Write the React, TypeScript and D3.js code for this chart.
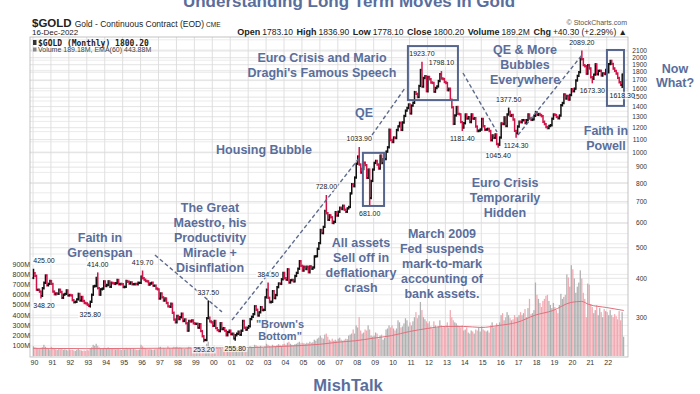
import { useEffect, useRef } from "react"
import * as d3 from "d3"

const WIDTH = 700
const HEIGHT = 394

// monthly closes of $GOLD, Jan 1990 .. Dec 2022, one row per year
const closes = [
  415, 407, 368, 368, 363, 352, 372, 387, 408, 380, 384, 392,
  384, 363, 356, 358, 357, 368, 362, 347, 355, 357, 366, 353,
  354, 353, 341, 336, 337, 343, 357, 340, 349, 339, 334, 333,
  330, 327, 337, 355, 377, 378, 401, 372, 355, 369, 371, 391,
  378, 381, 391, 376, 387, 386, 384, 386, 395, 383, 384, 383,
  375, 376, 392, 390, 385, 388, 383, 383, 384, 383, 387, 387,
  405, 400, 396, 392, 391, 382, 385, 387, 379, 379, 371, 369,
  345, 358, 348, 340, 345, 334, 326, 325, 332, 311, 296, 290,
  304, 297, 301, 309, 293, 296, 288, 273, 293, 292, 294, 288,
  287, 287, 279, 286, 272, 262, 255, 255, 299, 300, 292, 290,
  283, 293, 278, 274, 272, 288, 276, 278, 273, 264, 270, 273,
  266, 267, 258, 264, 267, 271, 265, 273, 293, 279, 275, 279,
  282, 297, 302, 308, 326, 318, 305, 312, 324, 317, 318, 348,
  368, 347, 336, 337, 364, 346, 354, 375, 385, 384, 397, 416,
  400, 396, 427, 388, 394, 395, 391, 407, 416, 429, 453, 438,
  423, 435, 428, 435, 418, 436, 429, 433, 469, 470, 496, 517,
  569, 556, 582, 654, 643, 613, 633, 624, 599, 604, 648, 632,
  650, 669, 663, 679, 660, 650, 666, 673, 743, 795, 783, 834,
  923, 972, 917, 865, 888, 930, 913, 833, 884, 718, 814, 884,
  928, 942, 917, 891, 979, 927, 954, 955, 1008, 1040, 1182, 1097,
  1081, 1117, 1113, 1180, 1212, 1244, 1181, 1247, 1308, 1359, 1385, 1421,
  1332, 1410, 1439, 1556, 1536, 1500, 1628, 1828, 1620, 1725, 1746, 1566,
  1738, 1710, 1669, 1664, 1561, 1604, 1622, 1687, 1773, 1719, 1712, 1675,
  1663, 1578, 1595, 1472, 1392, 1234, 1313, 1395, 1328, 1323, 1250, 1202,
  1240, 1321, 1284, 1296, 1250, 1322, 1282, 1287, 1210, 1171, 1175, 1184,
  1279, 1213, 1183, 1184, 1190, 1172, 1095, 1134, 1115, 1142, 1065, 1060,
  1117, 1237, 1233, 1293, 1215, 1322, 1349, 1308, 1316, 1274, 1173, 1152,
  1211, 1254, 1249, 1267, 1268, 1242, 1268, 1321, 1283, 1271, 1275, 1309,
  1345, 1318, 1326, 1316, 1305, 1254, 1232, 1206, 1196, 1215, 1222, 1282,
  1321, 1316, 1298, 1285, 1311, 1413, 1437, 1529, 1485, 1514, 1473, 1523,
  1589, 1566, 1596, 1694, 1751, 1800, 1986, 1978, 1895, 1880, 1780, 1895,
  1850, 1734, 1716, 1768, 1905, 1771, 1817, 1818, 1757, 1784, 1776, 1829,
  1797, 1909, 1954, 1911, 1849, 1817, 1782, 1726, 1672, 1640, 1768, 1800,
]
const firstOpen = 401

// labelled highs and lows
const extremes = [
  { month: "1990-01", value: 425.0, kind: "high" },
  { month: "1990-06", value: 348.2, kind: "low" },
  { month: "1993-03", value: 325.8, kind: "low" },
  { month: "1993-08", value: 414.0, kind: "high" },
  { month: "1996-02", value: 419.7, kind: "high" },
  { month: "1999-07", value: 253.2, kind: "low" },
  { month: "1999-10", value: 337.5, kind: "high" },
  { month: "2001-04", value: 255.8, kind: "low" },
  { month: "2003-02", value: 384.5, kind: "high" },
  { month: "2006-05", value: 728.0, kind: "high" },
  { month: "2008-03", value: 1033.9, kind: "high" },
  { month: "2008-10", value: 681.0, kind: "low" },
  { month: "2011-09", value: 1923.7, kind: "high" },
  { month: "2012-10", value: 1798.1, kind: "high" },
  { month: "2013-12", value: 1181.4, kind: "low" },
  { month: "2015-12", value: 1045.4, kind: "low" },
  { month: "2016-07", value: 1377.5, kind: "high" },
  { month: "2016-12", value: 1124.3, kind: "low" },
  { month: "2020-08", value: 2089.2, kind: "high" },
  { month: "2021-03", value: 1673.3, kind: "low" },
  { month: "2022-11", value: 1618.3, kind: "low" },
]

// monthly volume in millions
const volumes = [
  95, 85, 80, 75, 70, 80, 85, 110, 90, 80, 70, 65,
  90, 80, 70, 65, 60, 70, 65, 70, 60, 65, 60, 55,
  65, 60, 60, 55, 50, 60, 70, 60, 55, 50, 55, 50,
  60, 55, 75, 85, 110, 100, 120, 100, 85, 75, 70, 80,
  80, 70, 85, 75, 70, 75, 70, 65, 75, 70, 65, 60,
  70, 65, 80, 70, 75, 70, 65, 70, 65, 60, 60, 65,
  110, 95, 80, 75, 70, 65, 70, 65, 60, 65, 70, 70,
  85, 90, 75, 80, 75, 70, 95, 80, 75, 80, 90, 85,
  90, 80, 85, 80, 75, 70, 75, 80, 90, 85, 75, 70,
  80, 75, 70, 75, 85, 90, 95, 85, 120, 140, 95, 80,
  85, 100, 90, 80, 75, 80, 70, 75, 70, 65, 70, 75,
  80, 75, 70, 75, 85, 80, 70, 75, 100, 85, 70, 65,
  80, 95, 90, 85, 110, 105, 95, 90, 100, 85, 80, 95,
  120, 110, 100, 90, 110, 100, 95, 105, 115, 110, 100, 115,
  120, 110, 130, 140, 120, 110, 105, 115, 120, 130, 140, 125,
  130, 125, 120, 130, 125, 140, 130, 135, 160, 150, 170, 180,
  200, 180, 170, 210, 220, 190, 160, 150, 170, 150, 160, 150,
  170, 180, 160, 150, 160, 170, 165, 200, 210, 220, 260, 220,
  300, 280, 380, 250, 220, 230, 260, 250, 300, 260, 200, 190,
  200, 230, 220, 170, 200, 210, 160, 180, 260, 270, 300, 280,
  300, 270, 250, 270, 350, 330, 280, 290, 320, 370, 350, 290,
  330, 300, 340, 380, 430, 370, 400, 530, 450, 380, 360, 340,
  320, 340, 290, 270, 340, 300, 280, 290, 350, 300, 280, 290,
  300, 330, 280, 450, 380, 350, 330, 320, 300, 290, 280, 300,
  250, 260, 280, 230, 220, 250, 240, 220, 260, 250, 280, 240,
  290, 260, 250, 240, 250, 230, 300, 330, 280, 290, 320, 300,
  330, 400, 420, 350, 380, 430, 400, 370, 350, 360, 400, 380,
  380, 400, 430, 400, 420, 460, 380, 470, 560, 410, 420, 450,
  720, 600, 560, 520, 480, 540, 560, 590, 600, 540, 500, 470,
  520, 480, 450, 420, 500, 610, 560, 580, 600, 800, 770, 680,
  890, 850, 760, 620, 680, 720, 840, 760, 620, 560, 380, 710,
  700, 510, 480, 420, 450, 500, 400, 470, 430, 380, 460, 440,
  430, 400, 450, 400, 380, 410, 390, 360, 440, 350, 430, 189,
]

// EMA(60) of volume, read at a few dates
const volumeEma = [
  [1990, 75], [1993, 72], [1996, 75], [1999, 78], [2002, 82], [2004, 95],
  [2006, 115], [2007, 135], [2008, 150], [2009, 175], [2010, 200], [2011, 240],
  [2012, 270], [2013, 290], [2014, 290], [2015, 280], [2016, 300], [2017, 330],
  [2018, 400], [2019, 446], [2020, 525], [2020.6, 535], [2021, 505], [2022, 475],
  [2022.95, 446],
]

const priceTicks = [300, 400, 500, 600, 700, 800, 900, 1000, 1100, 1200, 1300, 1400, 1500, 1600, 1700, 1800, 1900, 2000, 2100]
const volumeTicks = [100, 200, 300, 400, 500, 600, 700, 800, 900]
const volumeGrid = d3.range(100, 3200, 100)
const yearTicks = d3.range(1990, 2023)

// highlighted boxes: [from year, to year, top price, bottom price]
const boxes = [
  [2008.4, 2009.58, 999, 678],
  [2010.91, 2013.7, 2177, 1468],
  [2022.01, 2022.96, 2116, 1407],
]

// dashed trend arrows: [year, price] -> [year, price]
const trendLines = [
  [[1996.8, 474], [2000.54, 313]],
  [[2001.1, 295], [2008.24, 969]],
  [[2008.91, 1138], [2010.75, 1603]],
  [[2013.98, 1789], [2015.88, 1163]],
  [[2017.05, 1138], [2020.62, 2040]],
]

const notes = [
  { x: 322, y: 62, lines: ["Euro Crisis and Mario", "Draghi's Famous Speech"] },
  { x: 364, y: 117, lines: ["QE"] },
  { x: 264, y: 154, lines: ["Housing Bubble"] },
  { x: 210, y: 212, lines: ["The Great", "Maestro, his", "Productivity", "Miracle +", "Disinflation"] },
  { x: 100, y: 242, lines: ["Faith in", "Greenspan"] },
  { x: 361, y: 247, lines: ["All assets", "Sell off in", "deflationary", "crash"] },
  { x: 442, y: 238, lines: ["March 2009", "Fed suspends", "mark-to-mark", "accounting of", "bank assets."] },
  { x: 525, y: 54, lines: ["QE & More", "Bubbles", "Everywhere"] },
  { x: 505, y: 187, lines: ["Euro Crisis", "Temporarily", "Hidden"] },
  { x: 606, y: 135, lines: ["Faith in", "Powell"] },
  { x: 675, y: 73, lines: ["Now", "What?"], lh: 13.5 },
  { x: 280, y: 328, lines: ['"Brown\'s', 'Bottom"'], size: 11, lh: 12 },
]

const BLUE = "#5a6e9c"
const RED = "#d0144a"
const SANS = "'Liberation Sans', Arial, sans-serif"

const App = () => {
  const svgRef = useRef<SVGSVGElement>(null)

  useEffect(() => {
    const svg = d3.select(svgRef.current)
    svg.selectAll("*").remove()

    const plot = { left: 30, right: 628, top: 37, bottom: 357 }

    const x = d3.scaleLinear().domain([1990, 2023]).range([33, 33 + 33 * 17.93])
    const y = d3.scaleLog().domain([1000, 500]).range([152.7, 247.7])
    const v = d3.scaleLinear().domain([0, 1000]).range([356, 254])

    const monthX = (i: number) => x(1990 + i / 12)
    const monthIndex = (m: string) => {
      const [yy, mm] = m.split("-").map(Number)
      return (yy - 1990) * 12 + mm - 1
    }

    const bars = closes.map((c, i) => {
      const open = i === 0 ? firstOpen : closes[i - 1]
      let high = Math.max(open, c)
      let low = Math.min(open, c)
      extremes.forEach((e) => {
        if (monthIndex(e.month) === i) {
          if (e.kind === "high") high = Math.max(high, e.value)
          else low = Math.min(low, e.value)
        }
      })
      return { i, open, close: c, high, low, up: c >= open }
    })

    svg.append("rect").attr("width", WIDTH).attr("height", HEIGHT).attr("fill", "white")

    svg.append("defs").append("clipPath").attr("id", "plotclip")
      .append("rect")
      .attr("x", plot.left).attr("y", plot.top)
      .attr("width", plot.right - plot.left).attr("height", plot.bottom - plot.top)

    // title (cut off at the top like the source image)
    svg.append("text")
      .attr("x", 349).attr("y", 7)
      .attr("text-anchor", "middle")
      .style("font-family", SANS).style("font-weight", "bold").style("font-size", "17px")
      .style("fill", BLUE)
      .text("Understanding Long Term Moves In Gold")

    // header
    const h1 = svg.append("text").attr("x", 32).attr("y", 26.5).style("font-family", SANS).style("fill", "#222")
    h1.append("tspan").style("font-weight", "bold").style("font-size", "11.5px").text("$GOLD")
    h1.append("tspan").attr("dx", 3).style("font-size", "8.5px").text("Gold - Continuous Contract (EOD)")
    h1.append("tspan").attr("dx", 2).style("font-size", "6.5px").text("CME")

    svg.append("text").attr("x", 32).attr("y", 35)
      .style("font-family", SANS).style("font-size", "8px").style("fill", "#222")
      .text("16-Dec-2022")

    svg.append("text").attr("x", 627).attr("y", 24.5).attr("text-anchor", "end")
      .style("font-family", SANS).style("font-size", "7px").style("fill", "#555")
      .text("© StockCharts.com")

    const quote = svg.append("text").attr("x", 627).attr("y", 35).attr("text-anchor", "end")
      .style("font-family", SANS).style("font-size", "8.5px").style("fill", "#222")
    const quoteParts = [
      ["Open", "1783.10"], ["High", "1836.90"], ["Low", "1778.10"], ["Close", "1800.20"],
      ["Volume", "189.2M"], ["Chg", "+40.30 (+2.29%) ▲"],
    ]
    quoteParts.forEach(([k, val], idx) => {
      quote.append("tspan").attr("dx", idx === 0 ? 0 : 3.5).style("font-weight", "bold").style("font-size", "9px").text(k)
      quote.append("tspan").attr("dx", 2).text(val)
    })

    // grid
    const grid = svg.append("g").attr("clip-path", "url(#plotclip)")
    grid.selectAll(".vg").data(yearTicks).join("line")
      .attr("x1", (d) => x(d)).attr("x2", (d) => x(d))
      .attr("y1", plot.top).attr("y2", plot.bottom)
      .attr("stroke", "#d8d8d8").attr("stroke-width", 0.8)
    grid.selectAll(".hv").data(volumeGrid).join("line")
      .attr("x1", plot.left).attr("x2", plot.right)
      .attr("y1", (d) => v(d)).attr("y2", (d) => v(d))
      .attr("stroke", "#e2e2e2").attr("stroke-width", 0.7)
    grid.selectAll(".hp").data(priceTicks).join("line")
      .attr("x1", plot.left).attr("x2", plot.right)
      .attr("y1", (d) => y(d)).attr("y2", (d) => y(d))
      .attr("stroke", "#d8d8d8").attr("stroke-width", 0.7)

    // volume
    const vol = svg.append("g").attr("clip-path", "url(#plotclip)")
    vol.selectAll("rect").data(volumes).join("rect")
      .attr("x", (_, i) => monthX(i) - 0.2)
      .attr("width", 1.25)
      .attr("y", (d) => v(d))
      .attr("height", (d) => v(0) - v(d))
      .attr("fill", (_, i) => (bars[i].up ? "#a8a8a8" : "#f0a0aa"))
      .attr("opacity", 0.9)

    vol.append("path")
      .datum(volumeEma)
      .attr("fill", "none")
      .attr("stroke", "#e0707c")
      .attr("stroke-width", 1)
      .attr("d", d3.line<number[]>().x((d) => x(d[0])).y((d) => v(d[1])).curve(d3.curveMonotoneX))

    // price bars
    const price = svg.append("g").attr("clip-path", "url(#plotclip)")
    const bg = price.selectAll("g").data(bars).join("g")
      .attr("stroke", (d) => (d.up ? "#111" : RED))
      .attr("stroke-width", 1.5)
    bg.append("line")
      .attr("x1", (d) => monthX(d.i) + 0.5).attr("x2", (d) => monthX(d.i) + 0.5)
      .attr("y1", (d) => y(d.high) - 1.2).attr("y2", (d) => y(d.low) + 1.2)
    bg.append("line")
      .attr("x1", (d) => monthX(d.i) - 0.6).attr("x2", (d) => monthX(d.i) + 0.5)
      .attr("y1", (d) => y(d.open)).attr("y2", (d) => y(d.open))
    bg.append("line")
      .attr("x1", (d) => monthX(d.i) + 0.5).attr("x2", (d) => monthX(d.i) + 1.6)
      .attr("y1", (d) => y(d.close)).attr("y2", (d) => y(d.close))

    // frame
    svg.append("rect")
      .attr("x", plot.left).attr("y", plot.top)
      .attr("width", plot.right - plot.left).attr("height", plot.bottom - plot.top)
      .attr("fill", "none").attr("stroke", "#b4b4b4").attr("stroke-width", 0.8)

    // legend inside plot
    svg.append("text").attr("x", 38).attr("y", 45.5)
      .style("font-family", "'DejaVu Sans Mono', monospace").style("font-weight", "bold")
      .style("font-size", "8px").style("fill", "#222")
      .text("$GOLD (Monthly) 1800.20")
    svg.append("rect").attr("x", 33).attr("y", 40).attr("width", 3.5).attr("height", 5).attr("fill", "#333")
    svg.append("text").attr("x", 38).attr("y", 52)
      .style("font-family", SANS).style("font-size", "7px").style("fill", "#444")
      .text("Volume 189.18M, EMA(60) 443.88M")
    svg.append("rect").attr("x", 33).attr("y", 47.5).attr("width", 3.5).attr("height", 4).attr("fill", "#888")

    // axes labels
    svg.append("g").selectAll("text").data(priceTicks).join("text")
      .attr("x", 647).attr("y", (d) => y(d) + 2.3)
      .attr("text-anchor", "end")
      .style("font-family", SANS).style("font-size", "6.6px").style("fill", "#333")
      .text((d) => d)

    svg.append("g").selectAll("text").data(volumeTicks).join("text")
      .attr("x", 30).attr("y", (d) => v(d) + 2.4)
      .attr("text-anchor", "end")
      .style("font-family", SANS).style("font-size", "7px").style("fill", "#333")
      .text((d) => `${d}M`)

    svg.append("g").selectAll("text").data(yearTicks).join("text")
      .attr("x", (d) => x(d) + 1.5).attr("y", 365)
      .attr("text-anchor", "middle")
      .style("font-family", SANS).style("font-size", "7px").style("fill", "#333")
      .text((d) => String(d % 100).padStart(2, "0"))

    // trend arrows and boxes
    const ann = svg.append("g")
    ann.selectAll("line").data(trendLines).join("line")
      .attr("x1", (d) => x(d[0][0])).attr("y1", (d) => y(d[0][1]))
      .attr("x2", (d) => x(d[1][0])).attr("y2", (d) => y(d[1][1]))
      .attr("stroke", "#5d6b8c").attr("stroke-width", 1.4)
      .attr("stroke-dasharray", "4,2.5")
    ann.selectAll("rect").data(boxes).join("rect")
      .attr("x", (d) => x(d[0])).attr("y", (d) => y(d[2]))
      .attr("width", (d) => x(d[1]) - x(d[0]))
      .attr("height", (d) => y(d[3]) - y(d[2]))
      .attr("fill", "none").attr("stroke", "#55658c").attr("stroke-width", 2)

    // value labels
    const vl = svg.append("g").selectAll("g").data(extremes).join("g")
      .attr("transform", (d) => {
        const cx = Math.max(44, monthX(monthIndex(d.month)) + 0.5)
        const cy = d.kind === "high" ? y(d.value) - 7 : y(d.value) + 11
        return `translate(${cx},${cy})`
      })
    vl.append("rect")
      .attr("x", -12).attr("y", -6).attr("width", 24).attr("height", 7.5)
      .attr("fill", "white").attr("opacity", 0.7)
    vl.append("text")
      .attr("text-anchor", "middle")
      .style("font-family", SANS).style("font-size", "7px").style("fill", "#222")
      .text((d) => d.value.toFixed(2))

    // annotations
    notes.forEach((n) => {
      const t = svg.append("text")
        .attr("text-anchor", "middle")
        .style("font-family", SANS).style("font-weight", "bold")
        .style("font-size", `${n.size ?? 12.5}px`).style("fill", BLUE)
      n.lines.forEach((line, k) => {
        t.append("tspan").attr("x", n.x).attr("y", n.y + k * (n.lh ?? 15)).text(line)
      })
    })

    svg.append("text")
      .attr("x", 348).attr("y", 391)
      .attr("text-anchor", "middle")
      .style("font-family", SANS).style("font-weight", "bold").style("font-size", "16.5px")
      .style("fill", BLUE)
      .text("MishTalk")
  }, [])

  return (
    <svg
      ref={svgRef}
      width={WIDTH}
      height={HEIGHT}
      style={{ position: "absolute", left: 0, top: 0, display: "block" }}
    ></svg>
  )
}

export default App
